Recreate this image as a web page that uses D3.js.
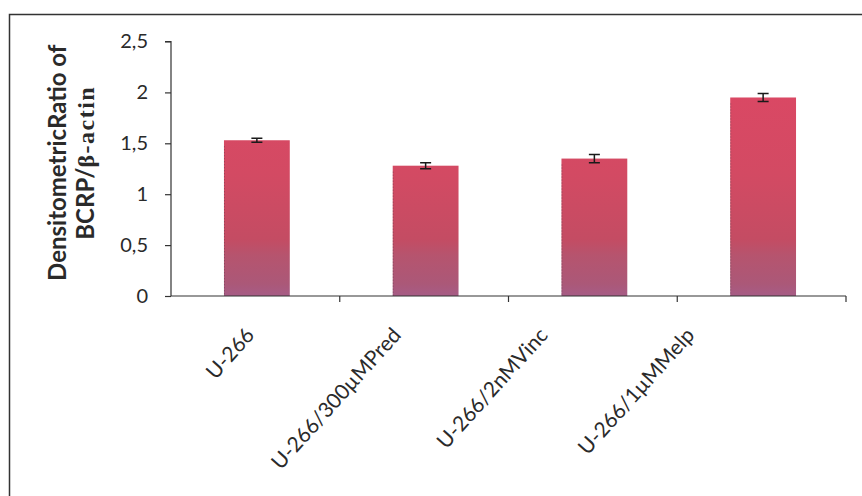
<!DOCTYPE html>
<html>
<head>
<meta charset="utf-8">
<script src="https://cdn.jsdelivr.net/npm/d3@7"></script>
<style>
  html, body { margin: 0; padding: 0; background: #fff; }
  svg { display: block; }
</style>
</head>
<body>
<svg id="chart" width="862" height="496"></svg>
<script>
// BCRP expression relative to beta-actin, per treatment
const categories = ["U-266", "U-266/300\u00b5MPred", "U-266/2nMVinc", "U-266/1\u00b5MMelp"];
const ratios = [1.53, 1.28, 1.35, 1.95];
const errors = [0.02, 0.03, 0.04, 0.04];
const yTicks = [0, 0.5, 1, 1.5, 2, 2.5];
const yTickLabels = ["0", "0,5", "1", "1,5", "2", "2,5"];

const svg = d3.select("#chart");
const W = 862, H = 496;
const plot = { left: 171, right: 846, top: 41.5, bottom: 296 };
const font = "Lato, 'Open Sans', sans-serif";

// outer frame (only left and top edges fall inside the canvas)
svg.append("path")
  .attr("d", `M9.5,${H} V14.5 H${W}`)
  .attr("fill", "none")
  .attr("stroke", "#333")
  .attr("stroke-width", 1.5);

const x = d3.scaleBand()
  .domain(categories)
  .range([plot.left, plot.right])
  .paddingInner(0.61)
  .paddingOuter(0.305);

const y = d3.scaleLinear()
  .domain([0, 2.5])
  .range([plot.bottom, plot.top]);

// bar fill: warm red at the top fading to a muted mauve at the base
const defs = svg.append("defs");
const grad = defs.append("linearGradient")
  .attr("id", "barFill")
  .attr("gradientUnits", "userSpaceOnUse")
  .attr("x1", 0).attr("x2", 0)
  .attr("y1", y(2)).attr("y2", y(0));
[
  [0, "#da4864"], [0.4, "#d34a63"], [0.72, "#c44c63"],
  [0.8, "#b6546e"], [0.94, "#ab5878"], [1, "#a65c86"]
].forEach(([o, c]) => grad.append("stop").attr("offset", o).attr("stop-color", c));

const data = categories.map((c, i) => ({ c, v: ratios[i], e: errors[i] }));
const shift = 1.5;

const bars = svg.append("g").attr("transform", `translate(${shift},0)`);
bars.selectAll("rect")
  .data(data)
  .join("rect")
  .attr("x", d => x(d.c))
  .attr("y", d => y(d.v))
  .attr("width", x.bandwidth())
  .attr("height", d => y(0) - y(d.v))
  .attr("fill", "url(#barFill)");

// faint dark left edge of each bar
bars.selectAll("line.edge")
  .data(data)
  .join("line")
  .attr("class", "edge")
  .attr("x1", d => x(d.c) + 0.5).attr("x2", d => x(d.c) + 0.5)
  .attr("y1", d => y(d.v) + 6).attr("y2", y(0))
  .attr("stroke", "#5a3a48")
  .attr("stroke-width", 1)
  .attr("stroke-dasharray", "1,2")
  .attr("opacity", 0.55);

// error bars
const eb = bars.append("g").attr("stroke", "#1a1a1a").attr("stroke-width", 1.5).attr("fill", "none");
const cap = 5.5;
data.forEach(d => {
  const cx = x(d.c) + x.bandwidth() / 2;
  eb.append("path").attr("d",
    `M${cx},${y(d.v + d.e)} V${y(d.v - d.e)}` +
    `M${cx - cap},${y(d.v + d.e)} H${cx + cap}` +
    `M${cx - cap},${y(d.v - d.e)} H${cx + cap}`);
});

// y axis
const yAxis = svg.append("g")
  .attr("transform", `translate(${plot.left},0)`)
  .call(d3.axisLeft(y).tickValues(yTicks).tickSize(6).tickPadding(17)
    .tickFormat((d, i) => yTickLabels[i]));
yAxis.select(".domain").attr("stroke", "#333").attr("stroke-width", 1.2).attr("d", `M-6,${y(2.5)}H0V${y(0)}`);
yAxis.selectAll(".tick line").attr("stroke", "#333").attr("stroke-width", 1.2);
yAxis.selectAll(".tick text")
  .attr("fill", "#2a2a2a")
  .style("font-family", font)
  .style("font-size", "20px");

// x axis: baseline with ticks on category boundaries
const step = x.step();
const boundaries = d3.range(categories.length + 1).map(i => plot.left + step * i);
const xAxis = svg.append("g");
xAxis.append("line")
  .attr("x1", plot.left).attr("x2", plot.right)
  .attr("y1", y(0)).attr("y2", y(0))
  .attr("stroke", "#333").attr("stroke-width", 1.2);
xAxis.selectAll("line.tick")
  .data(boundaries.slice(1))
  .join("line")
  .attr("class", "tick")
  .attr("x1", d => d).attr("x2", d => d)
  .attr("y1", y(0)).attr("y2", y(0) + 6)
  .attr("stroke", "#333").attr("stroke-width", 1.2);

// rotated category labels
const labelX = d3.scalePoint()
  .domain(categories)
  .range([x(categories[0]) + 33, x(categories[categories.length - 1]) - 33]);
xAxis.selectAll("text.cat")
  .data(categories)
  .join("text")
  .attr("class", "cat")
  .attr("transform", d => `translate(${labelX(d)},${y(0) + 40}) rotate(-48)`)
  .attr("text-anchor", "end")
  .attr("fill", "#2a2a2a")
  .style("font-family", font)
  .style("font-size", "21px")
  .text(d => d);

// y axis title (two lines, rotated)
const title = svg.append("text")
  .attr("transform", `translate(66,${(plot.top + plot.bottom) / 2 - 6}) rotate(-90)`)
  .attr("text-anchor", "middle")
  .attr("fill", "#2a2a2a")
  .style("font-family", font)
  .style("font-weight", "bold")
  .style("font-size", "24px");
title.append("tspan").attr("x", 0).attr("dy", 0).text("DensitometricRatio of");
const line2 = title.append("tspan").attr("x", 0).attr("dy", 28);
line2.append("tspan").text("BCRP/");
line2.append("tspan")
  .style("font-family", "'Liberation Serif', serif")
  .style("letter-spacing", "1.5px")
  .text("\u03b2-actin");
</script>
</body>
</html>
